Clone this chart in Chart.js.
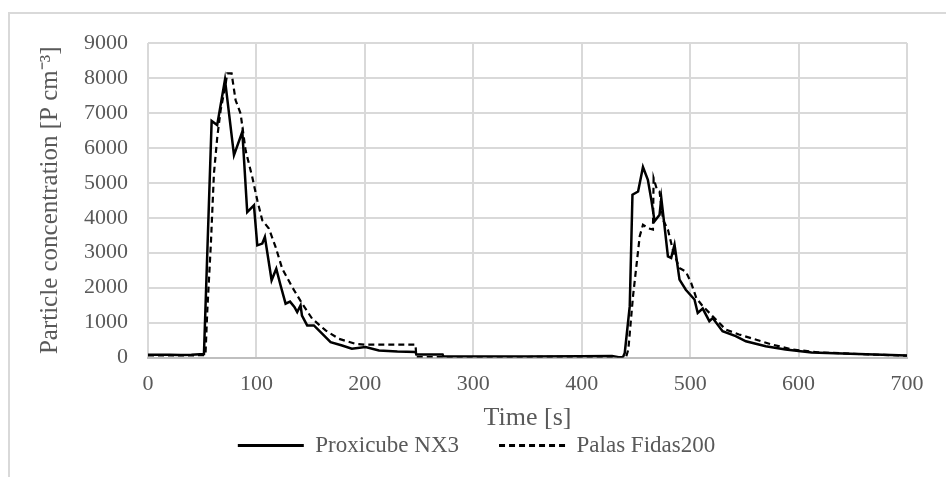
<!DOCTYPE html>
<html>
<head>
<meta charset="utf-8">
<script src="https://cdn.jsdelivr.net/npm/chart.js@4.4.1/dist/chart.umd.min.js"></script>
<style>
  html, body { margin: 0; padding: 0; background: #ffffff; }
  #wrap { position: relative; width: 946px; height: 477px; overflow: hidden; }
  #frame { position: absolute; left: 8px; top: 12px; width: 1000px; height: 520px; border: 2px solid #d9d9d9; box-sizing: border-box; }
  canvas { position: absolute; left: 0; top: 0; }
</style>
</head>
<body>
<div id="wrap">
  <div id="frame"></div>
  <canvas id="c" width="946" height="477"></canvas>
</div>
<script>
// ---- data ----
const seriesNames = ['Proxicube NX3', 'Palas Fidas200'];

const proxTime = [0, 10, 20, 30, 40, 51.6, 58.7, 63.8, 71, 79.3, 87, 91.5, 97.7, 100.8, 105.4, 107.8, 114, 118.3, 122.3, 126.9, 131, 135, 137.6, 140.7, 142, 146.8, 153, 159.2, 168.4, 179, 188, 200.6, 213, 230, 246.7, 247.5, 271.7, 272.5, 300, 350, 400, 428, 434, 438, 439.7, 444.3, 446.8, 452, 456.5, 461, 464.2, 467.2, 471.8, 473.4, 476.4, 479.5, 482.5, 485.6, 490.2, 496, 504, 507, 511.6, 517.7, 520.8, 529.9, 542, 551.4, 569.7, 588, 612, 655, 700];
const proxValue = [80, 80, 80, 75, 80, 100, 6770, 6650, 7950, 5790, 6460, 4160, 4355, 3210, 3260, 3450, 2210, 2540, 2060, 1540, 1600, 1450, 1300, 1490, 1200, 917, 917, 725, 440, 344, 250, 300, 200, 170, 160, 85, 85, 30, 30, 30, 35, 40, 5, 10, 130, 1470, 4660, 4750, 5450, 5085, 4510, 3900, 4085, 4560, 3750, 2895, 2850, 3230, 2230, 1940, 1660, 1275, 1400, 1040, 1130, 750, 610, 465, 320, 230, 140, 100, 60];

const palasTime = [0, 20, 40, 53, 54.7, 58, 60.8, 63.9, 67, 71.4, 73.1, 77.1, 80.8, 85.4, 90, 96.1, 100.8, 105.4, 111.5, 117.7, 123.8, 133, 142.2, 151.4, 163.8, 176, 191.4, 200, 246.7, 247.5, 300, 350, 400, 430, 436, 441, 443, 447.3, 450.4, 453.5, 456.5, 461, 465.7, 466.3, 469.4, 471.8, 475, 479.5, 484, 490, 496, 501, 505.7, 511.6, 520.8, 532.8, 545, 560.3, 575.6, 594, 618, 655, 700];
const palasValue = [60, 60, 60, 70, 1350, 3260, 5260, 6310, 7080, 7790, 8130, 8130, 7360, 6980, 5930, 5170, 4500, 3925, 3690, 3160, 2540, 2015, 1540, 1110, 775, 535, 390, 370, 370, 15, 15, 15, 20, 15, 5, 20, 230, 1750, 2610, 3470, 3800, 3700, 3660, 5130, 4800, 4750, 3940, 3660, 3085, 2560, 2460, 2130, 1700, 1470, 1180, 800, 660, 515, 370, 230, 150, 100, 50];

const xTickLabels = ['0', '100', '200', '300', '400', '500', '600', '700'];
const yTickLabels = ['0', '1000', '2000', '3000', '4000', '5000', '6000', '7000', '8000', '9000'];
const xTitle = 'Time [s]';
const yTitle = 'Particle concentration [P cm\u207B\u00B3]';

// ---- build chart ----
const toPoints = (ts, vs) => ts.map((t, i) => ({ x: t, y: vs[i] }));
const FONT = 'Liberation Serif, Times New Roman, serif';
const TXT = '#595959';
const GRID = '#d9d9d9';

new Chart(document.getElementById('c'), {
  type: 'line',
  data: {
    datasets: [
      { label: seriesNames[0], data: toPoints(proxTime, proxValue), borderColor: '#000', backgroundColor: '#000', borderWidth: 2.5, pointRadius: 0, tension: 0, fill: false },
      { label: seriesNames[1], data: toPoints(palasTime, palasValue), borderColor: '#000', backgroundColor: '#000', borderWidth: 2.2, borderDash: [6, 4], pointRadius: 0, tension: 0, fill: false }
    ]
  },
  options: {
    responsive: false,
    animation: false,
    layout: { padding: { left: 46, right: 39, top: 43, bottom: 10 } },
    plugins: {
      tooltip: { enabled: false },
      legend: {
        position: 'bottom',
        labels: {
          color: TXT,
          font: { family: FONT, size: 23 },
          usePointStyle: true,
          pointStyle: 'line',
          pointStyleWidth: 66,
          boxWidth: 66,
          boxHeight: 10,
          padding: 40,
          generateLabels: chart => {
            const items = Chart.defaults.plugins.legend.labels.generateLabels(chart);
            items.forEach(it => {
              const ds = chart.data.datasets[it.datasetIndex];
              it.lineDash = ds.borderDash || [];
              it.lineWidth = 3;
              it.strokeStyle = '#000';
              it.pointStyle = 'line';
            });
            return items;
          }
        }
      }
    },
    scales: {
      x: {
        type: 'linear', min: 0, max: 700,
        afterFit: s => { s.height = 36.5; },
        grid: { color: GRID, lineWidth: 2, drawTicks: false },
        border: { display: true, color: '#bfbfbf', width: 2 },
        ticks: { stepSize: 100, padding: 14, color: TXT, font: { family: FONT, size: 22 }, maxRotation: 0,
                 callback: (v, i) => xTickLabels[i] },
        title: { display: true, text: xTitle, color: TXT, font: { family: FONT, size: 26 }, padding: { top: 0, bottom: -40 } }
      },
      y: {
        min: 0, max: 9000,
        afterFit: s => { s.width = 102; },
        grid: { color: GRID, lineWidth: 2, drawTicks: false },
        border: { display: false },
        ticks: { stepSize: 1000, padding: 20, color: TXT, font: { family: FONT, size: 22 },
                 callback: (v, i) => yTickLabels[i] },
        title: { display: true, text: yTitle, color: TXT, font: { family: FONT, size: 25 }, padding: { top: -11, bottom: 0 } }
      }
    }
  }
});
</script>
</body>
</html>
